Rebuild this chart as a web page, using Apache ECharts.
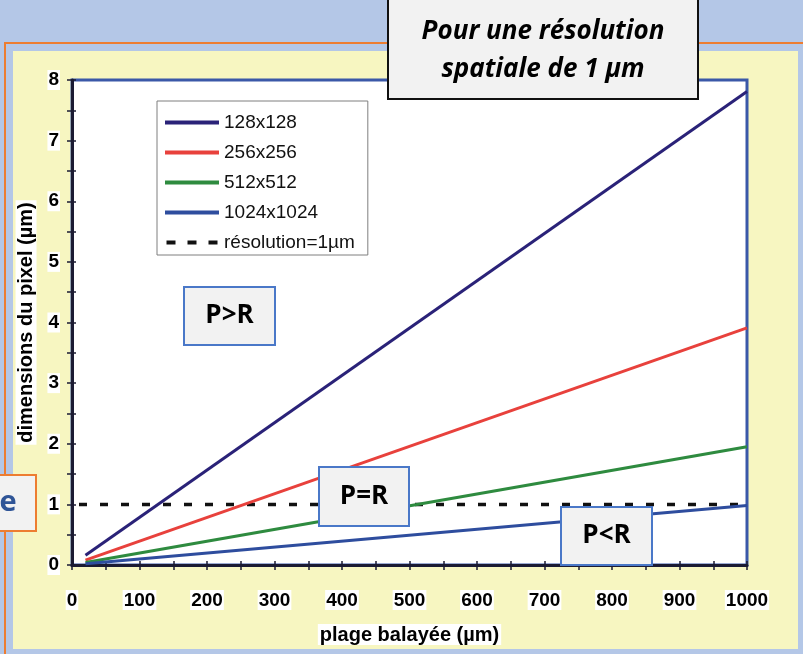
<!DOCTYPE html>
<html>
<head>
<meta charset="utf-8">
<script src="https://cdn.jsdelivr.net/npm/echarts@6/dist/echarts.min.js"></script>
<style>
html,body{margin:0;padding:0;background:#B4C7E7;}
#c{width:803px;height:654px;}
</style>
</head>
<body>
<div id="c"></div>
<script>
// Data
const seriesNames = ['128x128', '256x256', '512x512', '1024x1024', 'résolution=1µm'];
const v128 = [[20, 0.16], [1000, 7.81]];
const v256 = [[20, 0.08], [1000, 3.91]];
const v512 = [[20, 0.04], [1000, 1.95]];
const v1024 = [[20, 0.02], [1000, 0.98]];
const vRes = [[0, 1], [1000, 1]];
const xTicks = [0, 100, 200, 300, 400, 500, 600, 700, 800, 900, 1000];
const yTicks = [0, 1, 2, 3, 4, 5, 6, 7, 8];
const titleLines = ['Pour une résolution', 'spatiale de 1 µm'];
const xTitle = 'plage balayée (µm)';
const yTitle = 'dimensions du pixel (µm)';
const zoneLabels = ['P>R', 'P=R', 'P<R'];

const colors = ['#2A2278', '#E8413C', '#2E8B3F', '#2E4D9E', '#111111'];
const axisDark = '#1B1B33';
const arial = '"Liberation Sans", Arial, sans-serif';
const lblFont = {fontFamily: arial, fontWeight: 'bold', fontSize: 19, color: '#000', backgroundColor: '#fff', padding: [1, 1, 0, 1]};
const calibri = '"Open Sans", "Lato", sans-serif';

const chart = echarts.init(document.getElementById('c'), null, {renderer: 'canvas'});

function box(x, y, w, h, stroke, text, txtColor, tx, fs) {
  return {
    type: 'group', x: x, y: y,
    children: [
      {type: 'rect', z: 50, shape: {x: 0, y: 0, width: w, height: h}, style: {fill: '#F2F2F2', stroke: stroke, lineWidth: 2}},
      {type: 'text', z: 51, x: tx === undefined ? w / 2 : tx, y: h / 2, style: {text: text, fontFamily: calibri, fontWeight: 'bold', fontSize: fs || 26, fill: txtColor, align: 'center', verticalAlign: 'middle'}}
    ]
  };
}

const option = {
  backgroundColor: '#B4C7E7',
  animation: false,
  grid: {left: 72, right: 56, top: 80, bottom: 89, show: true, backgroundColor: '#fff', borderColor: '#3B58A8', borderWidth: 3},
  legend: {
    orient: 'vertical', left: 157, top: 101,
    backgroundColor: '#fff', borderColor: '#7F7F7F', borderWidth: 1,
    padding: [12, 13, 3, 8], itemGap: 11, itemWidth: 54, itemHeight: 4,
    textStyle: {fontFamily: arial, fontSize: 19, color: '#111'},
    data: [
      {name: seriesNames[0], icon: 'rect'},
      {name: seriesNames[1], icon: 'rect'},
      {name: seriesNames[2], icon: 'rect'},
      {name: seriesNames[3], icon: 'rect'},
      {name: seriesNames[4], icon: 'path://M0,0h9v4h-9zM21,0h9v4h-9zM42,0h9v4h-9z'}
    ]
  },
  xAxis: [{
    type: 'value', min: 0, max: 1000, interval: 100,
    axisLine: {show: true, onZero: false, lineStyle: {color: axisDark, width: 3}},
    axisTick: {show: true, length: 5, lineStyle: {color: axisDark, width: 1.5}},
    minorTick: {show: true, splitNumber: 2, length: 5, lineStyle: {color: axisDark, width: 1.5}},
    splitLine: {show: false},
    axisLabel: Object.assign({margin: 25, formatter: v => String(v)}, lblFont),
    name: xTitle, nameLocation: 'middle', nameGap: 59,
    nameTextStyle: {fontFamily: arial, fontWeight: 'bold', fontSize: 20, color: '#000', backgroundColor: '#fff', padding: [1, 2, 0, 2]}
  }, {
    type: 'value', min: 0, max: 1000, interval: 100, position: 'bottom',
    axisLine: {show: false}, axisLabel: {show: false}, splitLine: {show: false},
    axisTick: {show: true, inside: true, length: 4, lineStyle: {color: axisDark, width: 1.5}},
    minorTick: {show: true, splitNumber: 2, length: 4, lineStyle: {color: axisDark, width: 1.5}}
  }],
  yAxis: [{
    type: 'value', min: 0, max: 8, interval: 1,
    axisLine: {show: true, onZero: false, lineStyle: {color: axisDark, width: 3}},
    axisTick: {show: true, length: 5, lineStyle: {color: axisDark, width: 1.5}},
    minorTick: {show: true, splitNumber: 2, length: 5, lineStyle: {color: axisDark, width: 1.5}},
    splitLine: {show: false},
    axisLabel: Object.assign({margin: 12}, lblFont),
    name: yTitle, nameLocation: 'middle', nameGap: 30, nameRotate: 90,
    nameTextStyle: {fontFamily: arial, fontWeight: 'bold', fontSize: 20, color: '#000', backgroundColor: '#fff', padding: [1, 2, 0, 2]}
  }, {
    type: 'value', min: 0, max: 8, interval: 1, position: 'left',
    axisLine: {show: false}, axisLabel: {show: false}, splitLine: {show: false},
    axisTick: {show: true, inside: true, length: 4, lineStyle: {color: axisDark, width: 1.5}},
    minorTick: {show: true, splitNumber: 2, length: 4, lineStyle: {color: axisDark, width: 1.5}}
  }],
  series: [
    {name: seriesNames[0], type: 'line', data: v128, showSymbol: false, lineStyle: {width: 3, color: colors[0]}, itemStyle: {color: colors[0]}, z: 5},
    {name: seriesNames[1], type: 'line', data: v256, showSymbol: false, lineStyle: {width: 3, color: colors[1]}, itemStyle: {color: colors[1]}, z: 5},
    {name: seriesNames[2], type: 'line', data: v512, showSymbol: false, lineStyle: {width: 3, color: colors[2]}, itemStyle: {color: colors[2]}, z: 5},
    {name: seriesNames[3], type: 'line', data: v1024, showSymbol: false, lineStyle: {width: 3, color: colors[3]}, itemStyle: {color: colors[3]}, z: 5},
    {name: seriesNames[4], type: 'line', data: vRes, showSymbol: false, lineStyle: {width: 3.5, color: colors[4], type: [8, 13], dashOffset: 14}, itemStyle: {color: colors[4]}, z: 4}
  ],
  graphic: [
    {type: 'rect', z: -100, silent: true, shape: {x: 5, y: 43, width: 900, height: 700}, style: {fill: '#B4C7E7', stroke: '#ED7D31', lineWidth: 2}},
    {type: 'rect', z: -99, silent: true, shape: {x: 13, y: 51, width: 785, height: 598}, style: {fill: '#F7F6C1'}},
    {
      type: 'group', x: 388, y: -5,
      children: [
        {type: 'rect', z: 60, shape: {x: 0, y: 0, width: 310, height: 104}, style: {fill: '#F2F2F2', stroke: '#111', lineWidth: 2}},
        {type: 'text', z: 61, x: 155, y: 37, style: {text: titleLines[0], fontFamily: calibri, fontStyle: 'italic', fontWeight: 'bold', fontSize: 26, fill: '#000', align: 'center', verticalAlign: 'middle'}},
        {type: 'text', z: 61, x: 155, y: 75, style: {text: titleLines[1], fontFamily: calibri, fontStyle: 'italic', fontWeight: 'bold', fontSize: 26, fill: '#000', align: 'center', verticalAlign: 'middle'}}
      ]
    },
    box(184, 287, 91, 58, '#4A78C8', zoneLabels[0], '#000'),
    box(319, 467, 90, 59, '#4A78C8', zoneLabels[1], '#000'),
    box(561, 507, 91, 58, '#4A78C8', zoneLabels[2], '#000'),
    box(-20, 475, 56, 56, '#ED7D31', 'e', '#2F5597', 28, 29)
  ]
};
chart.setOption(option);
</script>
</body>
</html>
